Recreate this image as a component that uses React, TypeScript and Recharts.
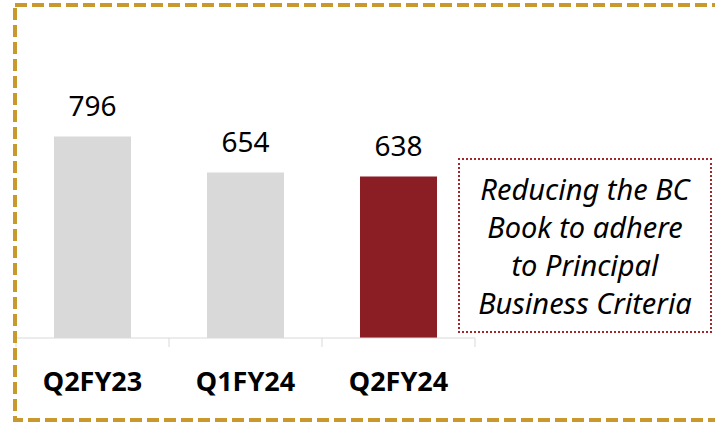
import React from 'react';
import { BarChart, Bar, XAxis, YAxis, LabelList, Cell } from 'recharts';

const categories = ['Q2FY23', 'Q1FY24', 'Q2FY24'];
const values = [796, 654, 638];
const barColors = ['#D9D9D9', '#D9D9D9', '#8B1D24'];
const noteLines = ['Reducing the BC', 'Book to adhere', 'to Principal', 'Business Criteria'];

const data = categories.map((c, i) => ({ name: c, value: values[i] }));

const TICK_GAP = 34;

function CategoryTick(props: any) {
  const { x, y, payload, index, visibleTicksCount } = props;
  const half = payload && payload.offset ? payload.offset : 0;
  const axisY = y - TICK_GAP;
  const isLast = index === (visibleTicksCount ?? categories.length) - 1;
  return (
    <g>
      <line x1={x - half} x2={x - half} y1={axisY} y2={axisY + 9} stroke="#D9D9D9" />
      {isLast && <line x1={x + half} x2={x + half} y1={axisY} y2={axisY + 9} stroke="#D9D9D9" />}
      <text x={x} y={y} dy="0.72em" textAnchor="middle" fill="#000" fontSize={27} fontWeight={700}>
        {payload.value}
      </text>
    </g>
  );
}

export default function App() {
  return (
    <div
      style={{
        position: 'fixed',
        left: 0,
        top: 0,
        width: 715,
        height: 424,
        background: '#fff',
        fontFamily: '"Noto Sans", sans-serif',
        overflow: 'hidden',
      }}
    >
      <BarChart
        width={715}
        height={424}
        data={data}
        margin={{ top: 85, right: 240, left: 16, bottom: 26 }}
      >
        <XAxis
          dataKey="name"
          height={60}
          axisLine={{ stroke: '#D9D9D9', strokeWidth: 1 }}
          tickLine={false}
          tickSize={0}
          tickMargin={TICK_GAP}
          interval={0}
          tick={<CategoryTick />}
        />
        <YAxis hide domain={[0, 1000]} />
        <Bar dataKey="value" barSize={77} isAnimationActive={false}>
          {data.map((d, i) => (
            <Cell key={d.name} fill={barColors[i]} />
          ))}
          <LabelList dataKey="value" position="top" offset={21} fill="#000" fontSize={28} />
        </Bar>
      </BarChart>
      <svg
        width={715}
        height={424}
        style={{ position: 'absolute', left: 0, top: 0, pointerEvents: 'none' }}
      >
        <rect
          x={15}
          y={5}
          width={740}
          height={415}
          fill="none"
          stroke="#C9992E"
          strokeWidth={4}
          strokeDasharray="12 5"
        />
      </svg>
      <div
        style={{
          position: 'absolute',
          left: 458,
          top: 158,
          width: 254,
          height: 175,
          boxSizing: 'border-box',
          border: '2px dotted #A3262C',
          display: 'flex',
          flexDirection: 'column',
          justifyContent: 'center',
          alignItems: 'center',
          fontStyle: 'italic',
          fontSize: 29,
          lineHeight: '38px',
          color: '#000',
          whiteSpace: 'nowrap',
        }}
      >
        {noteLines.map((l) => (
          <div key={l}>{l}</div>
        ))}
      </div>
    </div>
  );
}
